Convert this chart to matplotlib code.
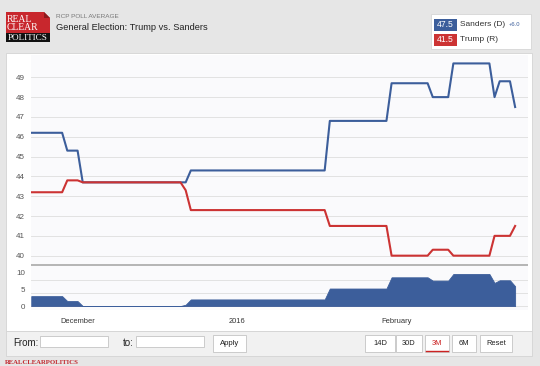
import matplotlib
matplotlib.use("Agg")
import matplotlib.pyplot as plt
import matplotlib.dates as mdates
from matplotlib.patches import Rectangle, Polygon
from matplotlib.lines import Line2D
import numpy as np
import datetime as dt

plt.rcParams['font.family'] = ['Liberation Sans', 'DejaVu Sans']

# ---------------- data ----------------
start_date = dt.date(2015, 11, 22)
sanders_values = [46.2, 45.3, 43.7, 44.3, 46.8, 48.7, 48.0, 49.7, 48.0, 48.8, 47.5]
sanders_days = [7, 3, 21, 27, 12, 8, 4, 8, 1, 3, 1]
trump_values = [43.2, 43.8, 43.7, 43.3, 42.3, 41.5, 40.0, 40.3, 40.0, 41.0, 41.5]
trump_days = [7, 3, 20, 1, 27, 12, 8, 4, 8, 4, 1]
main_yticks = [40, 41, 42, 43, 44, 45, 46, 47, 48, 49]
spread_yticks = [0, 5, 10]
spread_grid = [0, 4, 8]
month_ticks = [dt.date(2015, 12, 1), dt.date(2016, 1, 1), dt.date(2016, 2, 1)]
month_labels = ['December', '2016', 'February']
legend_names = ['Sanders (D)', 'Trump (R)']
legend_values = ['47.5', '41.5']
spread_label = '+6.0'
buttons = ['14D', '30D', '3M', '6M', 'Reset']

sanders = np.repeat(sanders_values, sanders_days)
trump = np.repeat(trump_values, trump_days)
dates = [start_date + dt.timedelta(days=i) for i in range(len(sanders))]
spread = sanders - trump

BLUE = '#3c5e9b'
RED = '#cc3333'
W, H = 540, 366

fig = plt.figure(figsize=(W / 100, H / 100), dpi=100)
fig.patch.set_facecolor('#e6e6e6')


def rect(x0, y0, x1, y1):
    return [x0 / W, 1 - y1 / H, (x1 - x0) / W, (y1 - y0) / H]


# background / decoration layer in pixel coordinates
bg = fig.add_axes([0, 0, 1, 1])
bg.set_xlim(0, W)
bg.set_ylim(H, 0)
bg.axis('off')
bg.set_zorder(0)

# chart panel
bg.add_patch(Rectangle((6, 53), 526, 278, facecolor='white', edgecolor='#d4d4d4', lw=0.6))
bg.add_patch(Rectangle((6, 331), 526, 25, facecolor='#f1f1f1', edgecolor='#d4d4d4', lw=0.6))

# logo
bg.add_patch(Rectangle((6, 12), 44, 21, facecolor='#c8272d', edgecolor='none'))
bg.add_patch(Polygon([(44, 12), (50, 12), (50, 18)], closed=True, facecolor='#e6e6e6', edgecolor='none'))
bg.add_patch(Polygon([(44, 12), (50, 18), (44, 18)], closed=True, facecolor='#8e1b1e', edgecolor='none'))
bg.add_patch(Rectangle((6, 33), 44, 9, facecolor='#111111', edgecolor='none'))
bg.text(6.5, 19, 'REAL', family='Liberation Serif', fontsize=6.9, color='white', va='center', ha='left')
bg.text(6.5, 28, 'CLEAR', family='Liberation Serif', fontsize=6.9, color='white', va='center', ha='left')
bg.text(28, 38, 'POLITICS', family='Liberation Serif', fontsize=6.6, color='white', va='center', ha='center')

# header titles
bg.text(56, 16, 'RCP POLL AVERAGE', fontsize=4.6, color='#777777', va='center', ha='left')
bg.text(56, 27.5, 'General Election: Trump vs. Sanders', fontsize=6.7, color='#222222', va='center', ha='left')

# legend box
bg.add_patch(Rectangle((431, 14), 100, 35, facecolor='white', edgecolor='#d6d6d6', lw=0.6))
for i, (name, val, col) in enumerate(zip(legend_names, legend_values, [BLUE, RED])):
    yc = 24.5 + i * 15
    bg.add_patch(Rectangle((434, yc - 6), 23, 12.5, facecolor=col, edgecolor='none'))
    bg.text(445.5, yc + 0.3, val, fontsize=6.2, color='white', va='center', ha='center')
    bg.text(460, yc + 0.3, name, fontsize=6.0, color='#333333', va='center', ha='left')
bg.text(509, 25, spread_label, fontsize=4.2, color=BLUE, va='center', ha='left')

# bottom controls
bg.text(13, 342.5, 'From:', fontsize=7, color='#222222', va='center', ha='left')
bg.add_patch(Rectangle((40, 336), 68, 11, facecolor='white', edgecolor='#c4c4c4', lw=0.6))
bg.text(123, 342.5, 'to:', fontsize=7, color='#222222', va='center', ha='left')
bg.add_patch(Rectangle((136, 336), 68, 11, facecolor='white', edgecolor='#c4c4c4', lw=0.6))
bg.add_patch(Rectangle((213, 335), 33, 17, facecolor='white', edgecolor='#c4c4c4', lw=0.6))
bg.text(229.5, 343.5, 'Apply', fontsize=5.6, color='#222222', va='center', ha='center')
btn_x = [(365, 395), (396, 422), (425, 449), (452, 476), (480, 512)]
for lbl, (x0, x1) in zip(buttons, btn_x):
    bg.add_patch(Rectangle((x0, 335), x1 - x0, 17, facecolor='white', edgecolor='#c4c4c4', lw=0.6))
    col = '#cc2222' if lbl == '3M' else '#222222'
    bg.text((x0 + x1) / 2, 343.5, lbl, fontsize=5.4, color=col, va='center', ha='center')
    if lbl == '3M':
        bg.plot([x0 + 1, x1 - 1], [351.3, 351.3], color='#cc2222', lw=1.0)

bg.text(5, 362, 'REALCLEARPOLITICS', family='Liberation Serif', fontweight='bold',
        fontsize=4.9, color='#c1272d', va='center', ha='left')

# ---------------- plot axes ----------------
x0num = mdates.date2num(start_date)
xlim = (x0num - 0.05, x0num + 96.5)

ax = fig.add_axes(rect(31, 55, 528, 264))
ax.set_zorder(2)
ax.set_facecolor('#fafafc')
ax.plot(dates, sanders, color=BLUE, lw=1.5, solid_joinstyle='round', zorder=3)
ax.plot(dates, trump, color=RED, lw=1.5, solid_joinstyle='round', zorder=3)
ax.set_xlim(xlim)
ax.set_ylim(39.58, 50.125)
ax.set_yticks(main_yticks)
ax.set_yticklabels([str(v) for v in main_yticks])
ax.grid(axis='y', color='#e2e2e2', lw=0.7)
ax.set_axisbelow(True)
ax.tick_params(axis='y', length=0, pad=4.3, labelsize=5.8, labelcolor='#555555')
ax.tick_params(axis='x', length=0, labelbottom=False)
ax.set_xticks([])
for s in ax.spines.values():
    s.set_visible(False)

ax2 = fig.add_axes(rect(31, 265.5, 528, 310))
ax2.set_zorder(2)
ax2.set_facecolor('#fafafc')
ax2.fill_between(dates, 0, spread, color=BLUE, lw=0.6, edgecolor=BLUE, zorder=3)
ax2.plot(dates, np.zeros(len(dates)), color='#e6a0a0', lw=0.5, zorder=2)
for g in spread_grid:
    ax2.axhline(g, color='#e2e2e2', lw=0.7, zorder=1)
ax2.set_xlim(xlim)
ax2.set_ylim(-1.2, 12.27)
ax2.set_yticks(spread_yticks)
ax2.set_yticklabels([str(v) for v in spread_yticks])
ax2.set_xticks(month_ticks)
ax2.set_xticklabels(month_labels)
ax2.tick_params(axis='y', length=0, pad=4.3, labelsize=5.8, labelcolor='#555555')
ax2.tick_params(axis='x', length=0, pad=5.5, labelsize=5.4, labelcolor='#333333')
for s in ax2.spines.values():
    s.set_visible(False)

# separator between the two panels
sep_y = 1 - 264.7 / H
fig.add_artist(Line2D([31 / W, 528 / W], [sep_y, sep_y], color='#a0a0a0', lw=1.1,
                      solid_capstyle='butt', zorder=10))

fig.savefig('out.png', dpi=100, facecolor=fig.get_facecolor())
